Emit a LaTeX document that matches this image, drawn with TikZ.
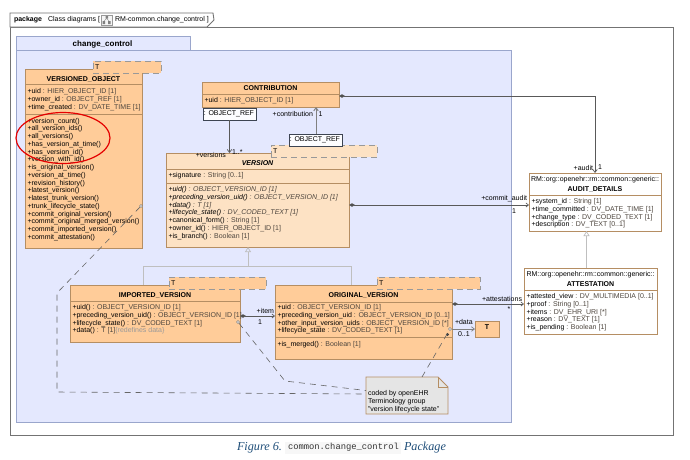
\documentclass[tikz,border=0pt]{standalone}
\usepackage{fontspec}
\setmainfont{Liberation Sans}
\newfontfamily\capserif{Liberation Serif}
\newfontfamily\capmono{Liberation Mono}
\usetikzlibrary{arrows.meta}
\definecolor{pkgfill}{HTML}{E4E8FE}
\definecolor{pkgline}{HTML}{9AA6CC}
\definecolor{classfill}{HTML}{FFCC99}
\definecolor{abstractfill}{HTML}{FDE2C4}
\definecolor{classline}{HTML}{B58E63}
\definecolor{typeink}{HTML}{4E463E}
\definecolor{capblue}{HTML}{1F4E79}
\definecolor{refline}{HTML}{3D4452}
\newcommand{\ty}[1]{\textcolor{typeink}{#1}}
\newcommand{\firstline}{\rule{0pt}{6pt}}
% Box given by its two opposite corners
\newcommand{\umlbox}[6]{%
  \node[#6, minimum width={(#4-#2)*1pt}, minimum height={(#5-#3)*1pt}]
    (#1) at ({(#2+#4)/2},{(#3+#5)/2}) {};}
% Compartment text: left edge and centre of the first line
\newcommand{\rows}[4]{%
  \node[rowtext] (#1) at (#2,#3-3.5) {\firstline #4};}
\tikzset{
  x=1pt, y=-1pt,
  base/.style={inner sep=0pt, outer sep=0pt},
  classbox/.style={base, draw=classline, line width=0.8pt, fill=classfill, rectangle},
  abstractbox/.style={classbox, fill=abstractfill},
  whitebox/.style={classbox, fill=white},
  templatebox/.style={base, draw=black!40, dash pattern=on 6pt off 4pt, line width=0.8pt, fill=classfill},
  templateversion/.style={templatebox, fill=abstractfill},
  refbox/.style={base, draw=refline, line width=0.8pt, fill=white!92!pkgfill},
  rowtext/.style={base, anchor=north west, align=left, font=\fontsize{7}{7.75}\selectfont, text=black},
  label/.style={base, font=\fontsize{7}{8}\selectfont, text=black},
  classname/.style={base, font=\bfseries\fontsize{7}{8}\selectfont, text=black},
  divider/.style={draw=classline, line width=0.7pt},
  assoc/.style={draw=black!65, line width=0.7pt},
  general/.style={draw=black!25, line width=0.7pt},
  owned/.style={assoc, {Diamond[length=6pt,width=3.5pt,fill=black!70]}-{Straight Barb[length=2.5pt,width=4pt]}},
  openend/.style={assoc, -{Straight Barb[length=3pt,width=4.5pt]}},
  inherit/.style={general, -{Triangle[open,length=5pt,width=6pt,fill=pkgfill]}},
  notelink/.style={draw=black!60, line width=0.6pt, dash pattern=on 6pt off 5pt},
  anchordot/.style={base, circle, minimum size=3pt, draw=black!50, fill=white, line width=0.4pt},
}
\begin{document}
\begin{tikzpicture}
\useasboundingbox (0,0) rectangle (690,459);
\fill[white] (0,0) rectangle (690,459);

% Outer diagram frame
\umlbox{frame}{10}{27}{673}{435}{base,draw=black!55,line width=0.9pt,fill=white}
\draw[draw=black!55, line width=0.9pt, fill=white]
  (10,27) -- (10,13) -- (213,13) -- (214,20) -- (207,27) -- cycle;
\node[label, anchor=west, font=\bfseries\fontsize{7}{8}\selectfont] (frametag) at (14,19.5) {package};
\node[label, anchor=west] (framename) at (48,19.5) {Class diagrams [};
\node[label, anchor=west] (frametitle) at (115,19.5) {RM-common.change\_control ]};
\draw[black!40, line width=0.4pt, fill=black!4] (101,15) rectangle (112,25);
\fill[black!50] (105.5,16) rectangle (108,18.5) (102.5,21) rectangle (105,24) (108,21) rectangle (110.5,24);
\draw[black!50, line width=0.3pt] (106.7,18.5) -- (104,21) (106.7,18.5) -- (109,21);

% Package with its tab
\umlbox{pkg}{16}{50}{511}{422}{base,draw=pkgline,line width=0.8pt,fill=pkgfill}
\umlbox{pkgtab}{16}{36}{190}{50}{base,draw=pkgline,line width=0.8pt,fill=pkgfill}
\node[base, font=\bfseries\fontsize{8}{9}\selectfont] (pkgname) at (102.5,44) {change\_control};

% Classes
\umlbox{versioned}{25}{69}{142}{248}{classbox}
\draw[divider] (versioned.west |- 0,84) -- (versioned.east |- 0,84);
\draw[divider] (versioned.west |- 0,114.5) -- (versioned.east |- 0,114.5);
\node[classname] (versionedname) at (83.5,79) {VERSIONED\_OBJECT};
\rows{versionedattrs}{27.5}{91}{+uid \ty{: HIER\_OBJECT\_ID [1]}\\+owner\_id \ty{: OBJECT\_REF [1]}\\+time\_created \ty{: DV\_DATE\_TIME [1]}}
\rows{versionedops}{27.5}{120.5}{+version\_count()\\+all\_version\_ids()\\+all\_versions()\\+has\_version\_at\_time()\\+has\_version\_id()\\+version\_with\_id()\\+is\_original\_version()\\+version\_at\_time()\\+revision\_history()\\+latest\_version()\\+latest\_trunk\_version()\\+trunk\_lifecycle\_state()\\+commit\_original\_version()\\+commit\_original\_merged\_version()\\+commit\_imported\_version()\\+commit\_attestation()}
\umlbox{versionedT}{93}{61}{161}{73}{templatebox}
\node[label, anchor=west] (versionedTname) at (95,67.5) {T};

\umlbox{contribution}{202}{82}{339}{107}{classbox}
\draw[divider] (contribution.west |- 0,94) -- (contribution.east |- 0,94);
\node[classname] (contributionname) at (270.5,88.5) {CONTRIBUTION};
\rows{contributionattrs}{204.5}{100}{+uid \ty{: HIER\_OBJECT\_ID [1]}}

\umlbox{version}{166}{153}{349}{247}{abstractbox}
\draw[divider] (version.west |- 0,169) -- (version.east |- 0,169);
\draw[divider] (version.west |- 0,183) -- (version.east |- 0,183);
\node[classname, font=\bfseries\itshape\fontsize{7}{8}\selectfont] (versionname) at (257.5,163.5) {VERSION};
\rows{versionattrs}{168.5}{175}{+signature \ty{: String [0..1]}}
\rows{versionops}{168.5}{189}{\itshape +uid() \ty{: OBJECT\_VERSION\_ID [1]}\\\itshape +preceding\_version\_uid() \ty{: OBJECT\_VERSION\_ID [1]}\\\itshape +data() \ty{: T [1]}\\\itshape +lifecycle\_state() \ty{: DV\_CODED\_TEXT [1]}\\+canonical\_form() \ty{: String [1]}\\+owner\_id() \ty{: HIER\_OBJECT\_ID [1]}\\+is\_branch() \ty{: Boolean [1]}}
\umlbox{versionT}{271}{145}{377}{157}{templateversion}
\node[label, anchor=west] (versionTname) at (273,151.5) {T};

\umlbox{imported}{70}{285}{240}{342}{classbox}
\draw[divider] (imported.west |- 0,301) -- (imported.east |- 0,301);
\node[classname] (importedname) at (155,295) {IMPORTED\_VERSION};
\rows{importedops}{72.5}{307}{+uid() \ty{: OBJECT\_VERSION\_ID [1]}\\+preceding\_version\_uid() \ty{: OBJECT\_VERSION\_ID [1]}\\+lifecycle\_state() \ty{: DV\_CODED\_TEXT [1]}\\+data() \ty{: T [1]}\textcolor{black!40}{\{redefines data\}}}
\umlbox{importedT}{169}{277}{266}{289}{templatebox}
\node[label, anchor=west] (importedTname) at (171,283.5) {T};

\umlbox{original}{275}{285}{452}{359}{classbox}
\draw[divider] (original.west |- 0,302) -- (original.east |- 0,302);
\draw[divider] (original.west |- 0,337) -- (original.east |- 0,337);
\node[classname] (originalname) at (363.5,295) {ORIGINAL\_VERSION};
\rows{originalattrs}{277.5}{307}{+uid \ty{: OBJECT\_VERSION\_ID [1]}\\+preceding\_version\_uid \ty{: OBJECT\_VERSION\_ID [0..1]}\\+other\_input\_version\_uids \ty{: OBJECT\_VERSION\_ID [*]}\\+lifecycle\_state \ty{: DV\_CODED\_TEXT [1]}}
\rows{originalops}{277.5}{344}{+is\_merged() \ty{: Boolean [1]}}
\umlbox{originalT}{377}{277}{480}{289}{templatebox}
\node[label, anchor=west] (originalTname) at (379,283.5) {T};

\umlbox{tparam}{475}{321}{499}{337}{classbox}
\node[classname] (tparamname) at (487,327) {T};

\umlbox{audit}{529}{173}{661}{231}{whitebox}
\draw[divider] (audit.west |- 0,195) -- (audit.east |- 0,195);
\node[label] (auditpkg) at (595,180) {RM::org::openehr::rm::common::generic::};
\node[classname] (auditname) at (595,189) {AUDIT\_DETAILS};
\rows{auditattrs}{531.5}{201}{+system\_id \ty{: String [1]}\\+time\_committed \ty{: DV\_DATE\_TIME [1]}\\+change\_type \ty{: DV\_CODED\_TEXT [1]}\\+description \ty{: DV\_TEXT [0..1]}}

\umlbox{attestation}{524}{268}{657}{334}{whitebox}
\draw[divider] (attestation.west |- 0,290) -- (attestation.east |- 0,290);
\node[label] (attestationpkg) at (590.5,275) {RM::org::openehr::rm::common::generic::};
\node[classname] (attestationname) at (590.5,284) {ATTESTATION};
\rows{attestationattrs}{526.5}{296}{+attested\_view \ty{: DV\_MULTIMEDIA [0..1]}\\+proof \ty{: String [0..1]}\\+items \ty{: DV\_EHR\_URI [*]}\\+reason \ty{: DV\_TEXT [1]}\\+is\_pending \ty{: Boolean [1]}}

% Binding boxes on the two references
\umlbox{refversions}{203}{108}{256}{120}{refbox}
\node[label] (refversionsname) at (229,114) {: OBJECT\_REF};
\umlbox{refcontribution}{289}{134}{342}{146}{refbox}
\node[label] (refcontributionname) at (315,140) {: OBJECT\_REF};

% Note
\coordinate (noteNW) at (366,377);
\coordinate (noteSE) at (448,414);
\draw[classline, line width=0.8pt, fill=black!10]
  (noteNW) -- (438,377) -- (noteSE |- 0,387) -- (noteSE) -- (noteNW |- noteSE) -- cycle;
\draw[classline, line width=0.7pt] (438,377) -- (438,387) -- (448,387);
\node[rowtext] (notetext) at (368,389.5) {\firstline coded by openEHR\\Terminology group\\"version lifecycle state"};

% Note anchors on the annotated features
\node[anchordot] (dotversioned) at (141,206) {};
\node[anchordot] (dotimported) at (238,322) {};
\node[anchordot] (dotoriginal) at (450,329) {};
\fill[black!75] (447.5,334.5) circle (1.6pt);

% Note links
\coordinate (bendlow) at (57,392);
\coordinate (bendhigh) at (57,293);
\coordinate (bendmid) at (285,381);
\draw[notelink] (dotversioned) -- (bendhigh) -- (bendlow) -- (366,394);
\draw[notelink] (dotimported) -- (bendmid) -- (366,390.5);
\draw[notelink] (422,377) -- (dotoriginal);

% Generalisations
\coordinate (treeleft) at (143,266);
\coordinate (treeright) at (351,266);
\coordinate (treemid) at (248,266);
\draw[general] (imported.north -| treeleft) -- (treeleft) -- (treeright) -- (original.north -| treeright);
\draw[inherit] (treemid) -- (version.south -| treemid);
\coordinate (attestup) at (586.5,268);
\draw[general, -{Triangle[open,length=5pt,width=6pt,fill=white]}] (attestation.north -| attestup) -- (audit.south -| attestup);

% Associations
\coordinate (auditdrop) at (595,96);
\draw[assoc, {Diamond[length=6pt,width=3.5pt,fill=black!70]}-{Straight Barb[length=3pt,width=4.5pt]}]
  (contribution.east |- auditdrop) -- (auditdrop) -- (audit.north -| auditdrop);
\node[label, anchor=east] (auditrole) at (593,167.5) {+audit};
\node[label, anchor=west] (auditmult) at (598,167.5) {1};

\draw[owned] (version.east |- 0,205) -- (audit.west |- 0,205);
\node[label, anchor=east] (commitrole) at (527,199) {+commit\_audit};
\node[label] (commitmult) at (514,211) {1};

\draw[openend] (refversions.south) -- (version.north -| refversions.south);
\node[label, anchor=east] (versionsrole) at (226,155) {+versions};
\node[label, anchor=west] (versionsmult) at (232,152.5) {1..*};

\draw[assoc, draw=black!50, line width=1pt, -{Straight Barb[length=3pt,width=4.5pt]}]
  (refcontribution.north -| 316,0) -- (contribution.south -| 316,0);
\node[label, anchor=east] (contributionrole) at (313,114) {+contribution};
\node[label, anchor=west] (contributionmult) at (318.5,114) {1};

\draw[owned] (imported.east |- 0,316) -- (original.west |- 0,316);
\node[label, anchor=east] (itemrole) at (274,311) {+item};
\node[label] (itemmult) at (260,322) {1};

\draw[owned] (original.east |- 0,304) -- (attestation.west |- 0,304);
\node[label, anchor=east] (attestrole) at (522,299) {+attestations};
\node[label] (attestmult) at (509,309.5) {*};

\draw[openend, draw=black!50] (original.east |- tparam) -- (tparam.west);
\node[label, anchor=west] (datarole) at (455,322) {+data};
\node[label, anchor=west] (datamult) at (458,334) {0..1};

% Highlight around the version accessors
\draw[red!90!black, line width=1.2pt] (63,138) ellipse [x radius=47, y radius=25.5];

% Caption
\fill[black!3] (285,442) rectangle (401,454);
\node[base, anchor=west, text=capblue, font=\capserif\itshape\fontsize{12.2}{13}\selectfont] (capstart) at (237,447.5) {Figure 6.};
\node[base, anchor=west, text=black!80, font=\capmono\fontsize{8.8}{10}\selectfont] (capcode) at (288,447.5) {common.change\_control};
\node[base, anchor=west, text=capblue, font=\capserif\itshape\fontsize{12.2}{13}\selectfont] (capend) at (404,447.5) {Package};
\end{tikzpicture}
\end{document}
